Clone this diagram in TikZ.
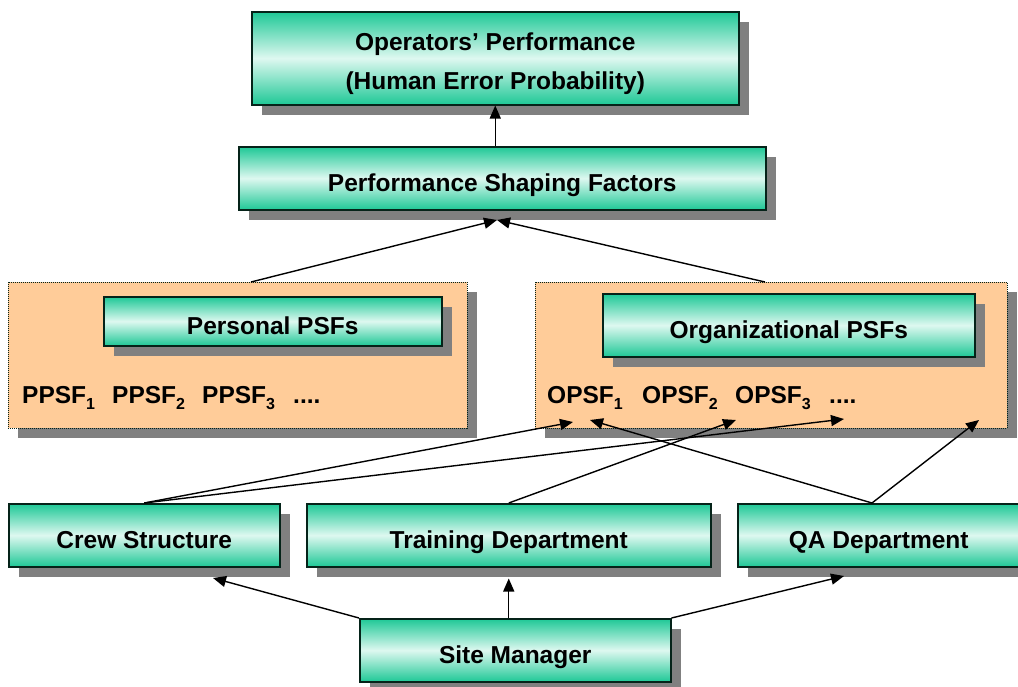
\documentclass[tikz,border=0pt]{standalone}
\usepackage{fontspec}
\setmainfont{Liberation Sans}
\usetikzlibrary{shadows,arrows.meta,calc}
\definecolor{boxgreen}{RGB}{30,200,150}
\definecolor{boxlight}{RGB}{222,248,240}
\definecolor{boxborder}{RGB}{5,35,25}
\definecolor{shadowgray}{RGB}{128,128,128}
\definecolor{peach}{RGB}{255,204,153}
\newcommand{\subidx}[1]{\raisebox{-0.27em}{\fontsize{16}{16}\selectfont #1}}
\begin{document}
\begin{tikzpicture}[x=1pt,y=-1pt,
  shadowed/.style={drop shadow={shadow xshift=10pt,shadow yshift=-10pt,fill=shadowgray,opacity=1}},
  gbox/.style={draw=boxborder,line width=1.5pt,top color=boxgreen,bottom color=boxgreen,middle color=boxlight,
    shadowed,anchor=north west,inner sep=0pt,text height=26pt,text depth=0pt,
    font=\fontsize{24.5}{39}\selectfont\bfseries},
  panel/.style={draw=boxborder,line width=0.9pt,dash pattern=on 1pt off 1pt,fill=peach,shadowed,
    anchor=north west,inner sep=0pt},
  itemtxt/.style={anchor=base west,inner sep=0pt,font=\fontsize{24.5}{28}\selectfont\bfseries},
  arr/.style={draw=black,line width=1.4pt,-{Triangle[length=13pt,width=11pt]}},
  ln/.style={draw=black,line width=1.4pt}]
\useasboundingbox (0,0) rectangle (1018,686);
% panels
\node[panel,minimum width=459pt,minimum height=146pt] (lp) at (8,282) {};
\node[panel,minimum width=472pt,minimum height=146pt] (rp) at (535,282) {};
% boxes
\node[gbox,minimum width=487pt,minimum height=93pt,text height=20pt,text depth=35pt] (top) at (251,11)
  {\begin{tabular}[t]{@{}c@{}}Operators’ Performance\\(Human Error Probability)\end{tabular}};
\node[gbox,minimum width=527pt,minimum height=63pt] (psf) at (238,146) {Performance Shaping Factors};
\node[gbox,minimum width=338pt,minimum height=49pt] (pers) at (103,296) {Personal PSFs};
\node[gbox,minimum width=372pt,minimum height=63pt] (org) at (602,293) {Organizational PSFs};
\node[gbox,minimum width=271pt,minimum height=63pt] (crew) at (8,503) {Crew Structure};
\node[gbox,minimum width=404pt,minimum height=63pt] (train) at (306,503) {Training Department};
\node[gbox,minimum width=282pt,minimum height=63pt] (qa) at (737,503) {QA Department};
\node[gbox,minimum width=311pt,minimum height=63pt] (sm) at (359,618) {Site Manager};
% item lists
\node[itemtxt] (pitems) at (22,403) {\makebox[90pt][l]{PPSF\subidx{1}}\makebox[90pt][l]{PPSF\subidx{2}}\makebox[91pt][l]{PPSF\subidx{3}}....};
\node[itemtxt] (oitems) at (547,403) {\makebox[95pt][l]{OPSF\subidx{1}}\makebox[93pt][l]{OPSF\subidx{2}}\makebox[94pt][l]{OPSF\subidx{3}}....};
% named points
\coordinate (psfin) at (497,220);
\coordinate (lpout) at (251,282);
\coordinate (rpout) at (765,282);
\coordinate (o1a) at (573,422);
\coordinate (o1b) at (590,420);
\coordinate (o2) at (736,420);
\coordinate (odots) at (844,419);
\coordinate (rpin) at (979,420);
\coordinate (qaout) at (872,503);
\coordinate (crewin) at (213,578);
\coordinate (qain) at (844,576);
% connectors
\draw[arr] (psf.north -| top.south) -- (top.south);
\draw[arr] (lpout) -- (psfin);
\draw[arr] (rpout) -- (psfin);
\draw[arr] (crew.north) -- (o1a);
\draw[arr] (crew.north) -- (odots);
\draw[arr] (train.north) -- (o2);
\draw[arr] (qaout) -- (o1b);
\draw[arr] (qaout) -- (rpin);
\draw[arr] (sm.north west) -- (crewin);
\draw[arr] (sm.north -| train.south) -- ($(train.south)+(0,11)$);
\draw[arr] (sm.north east) -- (qain);
\end{tikzpicture}
\end{document}
